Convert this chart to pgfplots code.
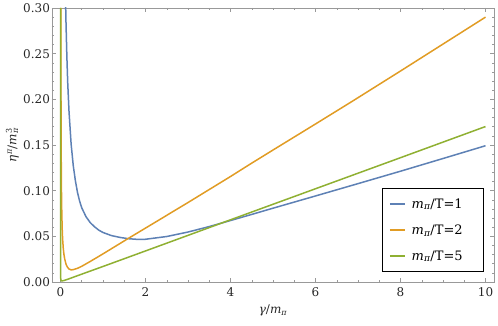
\documentclass[border=0pt]{standalone}
\usepackage{fontspec}
\setmainfont{DejaVu Serif}
\usepackage{pgfplots}
\pgfplotsset{compat=1.18}
\definecolor{c1}{rgb}{0.368417,0.506779,0.709798}
\definecolor{c2}{rgb}{0.880722,0.611041,0.142051}
\definecolor{c3}{rgb}{0.560181,0.691569,0.194885}
\begin{document}
\begin{tikzpicture}
\begin{axis}[
  scale only axis, width=442pt, height=274pt,
  xmin=-0.2, xmax=10.2, ymin=0, ymax=0.3,
  xtick={0,2,4,6,8,10},
  ytick={0,0.05,0.1,0.15,0.2,0.25,0.3},
  minor x tick num=3, minor y tick num=4,
  tick align=inside,
  major tick length=4pt, minor tick length=2.2pt,
  axis line style={black!40, line width=0.6pt},
  every tick/.style={black!40, line width=0.5pt},
  /pgf/number format/assume math mode=true,
  tick label style={font=\fontsize{12}{14}\selectfont, text=black!85},
  yticklabel style={/pgf/number format/fixed, /pgf/number format/fixed zerofill, /pgf/number format/precision=2, xshift=1.5pt},
  xticklabel style={yshift=-2.3pt},
  label style={font=\fontsize{12}{14}\selectfont, text=black!85, inner sep=0pt},
  xlabel={{\itshape γ}/{\itshape m}\textsubscript{\itshape π}},
  ylabel={{\itshape η}\textsuperscript{\itshape π}/{\itshape m}\rlap{\textsuperscript{3}}\textsubscript{\itshape π}},
  xlabel style={at={(axis description cs:0.5,0)}, anchor=north, yshift=-23pt},
  ylabel style={at={([xshift=-33pt]axis description cs:0,0.5)}, anchor=south},
  legend style={at={(axis description cs:1,0)}, anchor=south east, xshift=-10pt, yshift=10pt,
    draw=black, line width=0.6pt, font=\fontsize{13}{15}\selectfont, row sep=11pt,
    inner xsep=7pt, inner ysep=8pt, cells={anchor=west}},
  legend image code/.code={\draw[#1] (0pt,0pt) -- (15pt,0pt);},
  legend image post style={line width=1.6pt},
]
\coordinate (ll) at (rel axis cs:0,0);
\addplot[c1, line width=1.5pt] coordinates {
(0.12,0.306) (0.13,0.283) (0.15,0.2465) (0.17,0.218) (0.20,0.187) (0.25,0.151)
(0.30,0.1275) (0.35,0.111) (0.40,0.098) (0.45,0.0885) (0.50,0.0812) (0.60,0.0715)
(0.70,0.0650) (0.80,0.0605) (0.90,0.0568) (1.00,0.0542) (1.20,0.0508) (1.40,0.0488)
(1.60,0.0474) (1.80,0.0467) (2.00,0.0468) (2.50,0.0498) (3.00,0.0547) (3.50,0.0607)
(4.00,0.0673) (4.50,0.0740) (5.00,0.0808) (6.00,0.0942) (7.00,0.1077) (8.00,0.1213)
(9.00,0.1352) (10.00,0.1492)
};
\addlegendentry{\kern4pt{\itshape m}\textsubscript{\itshape π}/T=1\rule{12pt}{0pt}}
\addplot[c2, line width=1.5pt] coordinates {
(0.0077,0.30) (0.009,0.256) (0.011,0.21) (0.014,0.165) (0.018,0.128) (0.023,0.100)
(0.03,0.077) (0.04,0.058) (0.05,0.047) (0.065,0.037) (0.08,0.0305) (0.10,0.025)
(0.13,0.0195) (0.16,0.0165) (0.20,0.0142) (0.25,0.0133) (0.30,0.0135) (0.40,0.0150)
(0.50,0.0172) (0.70,0.0225) (1.00,0.0308) (1.57,0.0470) (2.0,0.0590) (3.0,0.0870)
(4.0,0.1155) (4.46,0.1290) (5.0,0.1445) (6.0,0.1730) (6.87,0.1980) (8.0,0.2310)
(9.0,0.2605) (10.0,0.2900)
};
\addlegendentry{\kern4pt{\itshape m}\textsubscript{\itshape π}/T=2\rule{12pt}{0pt}}
\addplot[c3, line width=1.5pt] coordinates {
(0.00007,0.30) (0.0001,0.20) (0.0002,0.10) (0.0005,0.04) (0.001,0.02) (0.002,0.01)
(0.005,0.0041) (0.01,0.0022) (0.02,0.0013) (0.04,0.0012) (0.08,0.0016) (0.2,0.0035)
(0.5,0.0086) (1.0,0.0170) (2.0,0.0340) (4.0,0.0681) (6.0,0.1021) (8.0,0.1361) (10.0,0.1702)
};
\addlegendentry{\kern4pt{\itshape m}\textsubscript{\itshape π}/T=5\rule{12pt}{0pt}}
\end{axis}
\path (ll) ++(-52pt,-44pt) rectangle ++(498pt,326pt);
\end{tikzpicture}
\end{document}
